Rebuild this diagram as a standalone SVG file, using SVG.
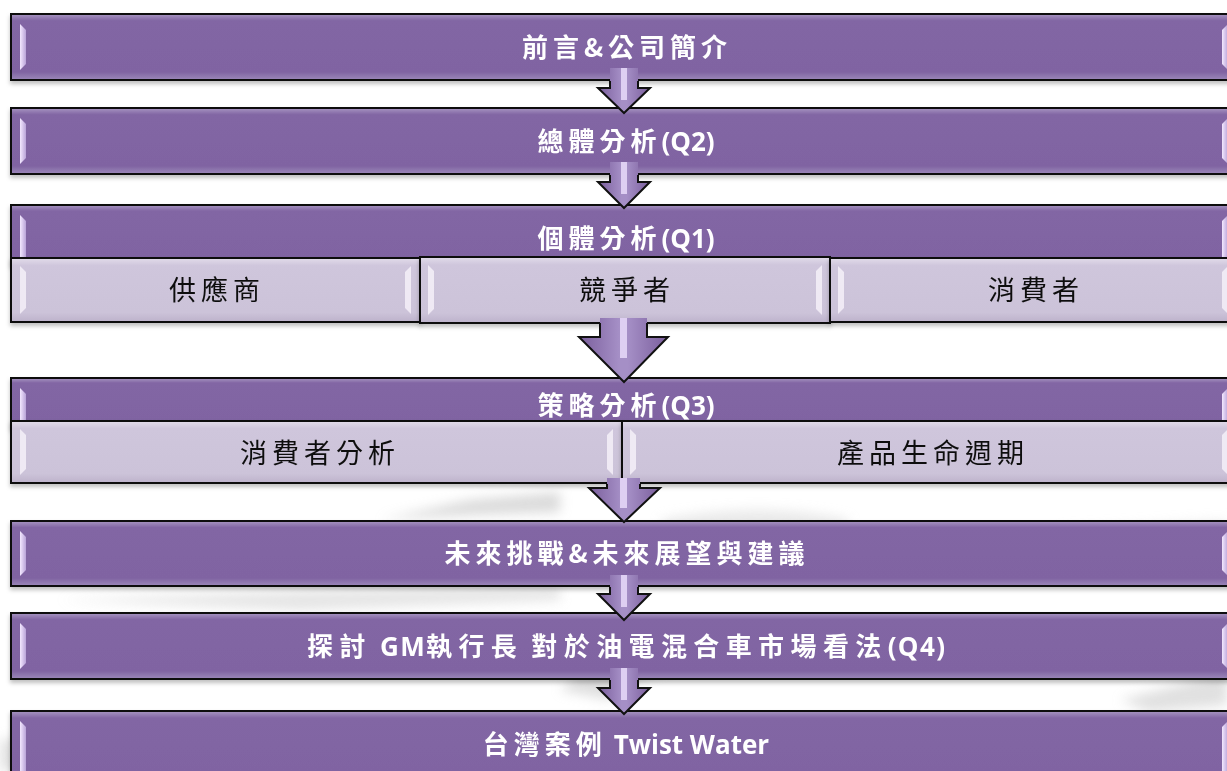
<svg xmlns="http://www.w3.org/2000/svg" width="1227" height="771" viewBox="0 0 1227 771">
<style>
.bar{fill:url(#gBar);stroke:#111;stroke-width:2}
.sub{fill:url(#gSub);stroke:#111;stroke-width:2}
.hl{fill:url(#gHl)}
.hls{fill:#f4f0f8;opacity:.85}
.tw{font-family:"Noto Sans CJK TC","Noto Sans CJK SC",sans-serif;font-weight:700;font-size:26px;fill:#fff;text-anchor:middle;letter-spacing:5px}
.lat{font-family:"Open Sans","Liberation Sans",sans-serif;letter-spacing:0}
.tb{font-family:"Noto Sans CJK TC","Noto Sans CJK SC",sans-serif;font-weight:400;font-size:27px;fill:#111;text-anchor:middle;letter-spacing:5px}
.afill{fill:url(#gArrow)}
.aline{fill:none;stroke:#111;stroke-width:2;stroke-linejoin:miter}
.ahl{fill:#e4d6f6;opacity:.9}
</style>
<defs>
<linearGradient id="gBar" x1="0" y1="0" x2="0" y2="1">
<stop offset="0" stop-color="#a896c2"/>
<stop offset=".1" stop-color="#8266a4"/>
<stop offset=".88" stop-color="#8064a2"/>
<stop offset="1" stop-color="#9c88ba"/>
</linearGradient>
<linearGradient id="gSub" x1="0" y1="0" x2="0" y2="1">
<stop offset="0" stop-color="#e2dcea"/>
<stop offset=".12" stop-color="#cfc6dc"/>
<stop offset=".85" stop-color="#ccc3d9"/>
<stop offset="1" stop-color="#bdb2cb"/>
</linearGradient>
<linearGradient id="gHl" x1="0" y1="0" x2="1" y2="0">
<stop offset="0" stop-color="#f3e8ff"/>
<stop offset="1" stop-color="#b9a3d8"/>
</linearGradient>
<linearGradient id="gArrow" x1="0" y1="0" x2="1" y2="0">
<stop offset="0" stop-color="#7a5e9c"/>
<stop offset=".45" stop-color="#a58fc6"/>
<stop offset=".55" stop-color="#a58fc6"/>
<stop offset="1" stop-color="#7a5e9c"/>
</linearGradient>
<filter id="sh" x="-5%" y="-20%" width="110%" height="150%">
<feDropShadow dx="0" dy="3" stdDeviation="2" flood-color="#000" flood-opacity=".25"/>
</filter>
<filter id="blur" x="-20%" y="-20%" width="140%" height="140%">
<feGaussianBlur stdDeviation="6"/>
</filter>
</defs>
<rect width="1227" height="771" fill="#fff"/>
<g id="background" filter="url(#blur)" opacity=".55">
<path d="M380,520 L470,500 L560,492 L560,512 L470,515 Z" fill="#bdbdbd"/>
<path d="M60,600 L300,592 L560,588 L560,600 L300,610 Z" fill="#cfcfcf"/>
<path d="M560,690 Q600,650 690,640 L700,660 Q640,672 610,700 Z" fill="#c4c4c4"/>
<path d="M0,740 Q80,725 180,745 L180,771 L0,771 Z" fill="#cacaca"/>
<path d="M1120,700 L1227,672 L1227,705 L1150,712 Z" fill="#c8c8c8"/>
<path d="M1060,530 L1227,520 L1227,560 L1080,560 Z" fill="#e2e2e2"/>
<path d="M660,520 Q760,500 850,520 L840,540 Q760,530 670,540 Z" fill="#d8d8d8"/>
</g>
<g id="n1" filter="url(#sh)">
<rect class="bar" x="11" y="14" width="1228" height="66"/>
<path class="hl" d="M20,24 L26,30 L26,64 L20,70 Z"/>
<path class="hl" d="M1228,24 L1222,30 L1222,64 L1228,70 Z"/>
<text class="tw" x="627" y="57">前言&amp;公司簡介</text>
</g>
<g id="n2" filter="url(#sh)">
<rect class="bar" x="11" y="108" width="1228" height="66"/>
<path class="hl" d="M20,118 L26,124 L26,158 L20,164 Z"/>
<path class="hl" d="M1228,118 L1222,124 L1222,158 L1228,164 Z"/>
<text class="tw" x="626" y="151">總體分析<tspan class="lat">(Q2)</tspan></text>
</g>
<g id="n3" filter="url(#sh)">
<rect class="bar" x="11" y="205" width="1228" height="60"/>
<path class="hl" d="M20,215 L26,221 L26,258 L20,258 Z"/>
<path class="hl" d="M1228,215 L1222,221 L1222,258 L1228,258 Z"/>
<text class="tw" x="626" y="248">個體分析<tspan class="lat">(Q1)</tspan></text>
</g>
<g id="n3a" filter="url(#sh)">
<rect class="sub" x="11" y="258" width="409" height="64"/>
<path class="hls" d="M20,266 L26,272 L26,308 L20,314 Z"/>
<path class="hls" d="M411,266 L405,272 L405,308 L411,314 Z"/>
<text class="tb" x="217" y="300">供應商</text>
</g>
<g id="n3b" filter="url(#sh)">
<rect class="sub" x="420" y="257" width="410" height="66"/>
<path class="hls" d="M428,265 L434,271 L434,309 L428,315 Z"/>
<path class="hls" d="M822,265 L816,271 L816,309 L822,315 Z"/>
<text class="tb" x="627" y="300">競爭者</text>
</g>
<g id="n3c" filter="url(#sh)">
<rect class="sub" x="830" y="258" width="409" height="64"/>
<path class="hls" d="M838,266 L844,272 L844,308 L838,314 Z"/>
<path class="hls" d="M1228,266 L1222,272 L1222,308 L1228,314 Z"/>
<text class="tb" x="1036" y="300">消費者</text>
</g>
<g id="n4" filter="url(#sh)">
<rect class="bar" x="11" y="378" width="1228" height="50"/>
<path class="hl" d="M20,388 L26,394 L26,421 L20,421 Z"/>
<path class="hl" d="M1228,388 L1222,394 L1222,421 L1228,421 Z"/>
<text class="tw" x="626" y="415">策略分析<tspan class="lat">(Q3)</tspan></text>
</g>
<g id="n4a" filter="url(#sh)">
<rect class="sub" x="11" y="421" width="611" height="62"/>
<path class="hls" d="M20,429 L26,435 L26,469 L20,475 Z"/>
<path class="hls" d="M613,429 L607,435 L607,469 L613,475 Z"/>
<text class="tb" x="320" y="463">消費者分析</text>
</g>
<g id="n4b" filter="url(#sh)">
<rect class="sub" x="622" y="421" width="617" height="62"/>
<path class="hls" d="M630,429 L636,435 L636,469 L630,475 Z"/>
<path class="hls" d="M1228,429 L1222,435 L1222,469 L1228,475 Z"/>
<text class="tb" x="933" y="463">產品生命週期</text>
</g>
<g id="n5" filter="url(#sh)">
<rect class="bar" x="11" y="521" width="1228" height="65"/>
<path class="hl" d="M20,531 L26,537 L26,570 L20,576 Z"/>
<path class="hl" d="M1228,531 L1222,537 L1222,570 L1228,576 Z"/>
<text class="tw" x="627" y="563">未來挑戰&amp;未來展望與建議</text>
</g>
<g id="n6" filter="url(#sh)">
<rect class="bar" x="11" y="613" width="1228" height="66"/>
<path class="hl" d="M20,623 L26,629 L26,663 L20,669 Z"/>
<path class="hl" d="M1228,623 L1222,629 L1222,663 L1228,669 Z"/>
<text class="tw" x="626" y="656" textLength="638" lengthAdjust="spacing">探討<tspan class="lat"> GM</tspan>執行長<tspan class="lat"> </tspan>對於油電混合車市場看法<tspan class="lat">(Q4)</tspan></text>
</g>
<g id="n7" filter="url(#sh)">
<rect class="bar" x="11" y="711" width="1228" height="70"/>
<path class="hl" d="M20,721 L26,727 L26,771 L20,771 Z"/>
<path class="hl" d="M1228,721 L1222,727 L1222,771 L1228,771 Z"/>
<text class="tw" x="626" y="754">台灣案例<tspan class="lat"> Twist Water</tspan></text>
</g>
<g id="connectors">
<path class="afill" d="M610,68 L610,88 L598,88 L624,113 L650,88 L638,88 L638,68 Z"/>
<path class="aline" d="M610,81 L610,88 L598,88 L624,113 L650,88 L638,88 L638,81"/>
<rect class="ahl" x="621" y="68" width="6" height="32"/>

<path class="afill" d="M610,162 L610,182 L598,182 L624,208 L650,182 L638,182 L638,162 Z"/>
<path class="aline" d="M610,175 L610,182 L598,182 L624,208 L650,182 L638,182 L638,175"/>
<rect class="ahl" x="621" y="162" width="6" height="32"/>

<path class="afill" d="M600,318 L600,337 L579,337 L624,382 L668,337 L647,337 L647,318 Z"/>
<path class="aline" d="M600,323 L600,337 L579,337 L624,382 L668,337 L647,337 L647,323"/>
<rect class="ahl" x="620" y="318" width="7" height="40"/>

<path class="afill" d="M607,478 L607,488 L589,488 L624,522 L660,488 L640,488 L640,478 Z"/>
<path class="aline" d="M607,484 L607,488 L589,488 L624,522 L660,488 L640,488 L640,484"/>
<rect class="ahl" x="620" y="478" width="7" height="30"/>

<path class="afill" d="M610,575 L610,594 L598,594 L624,620 L650,594 L638,594 L638,575 Z"/>
<path class="aline" d="M610,587 L610,594 L598,594 L624,620 L650,594 L638,594 L638,587"/>
<rect class="ahl" x="621" y="575" width="6" height="32"/>

<path class="afill" d="M610,668 L610,688 L598,688 L624,714 L650,688 L638,688 L638,668 Z"/>
<path class="aline" d="M610,680 L610,688 L598,688 L624,714 L650,688 L638,688 L638,680"/>
<rect class="ahl" x="621" y="668" width="6" height="32"/>
</g>
</svg>
